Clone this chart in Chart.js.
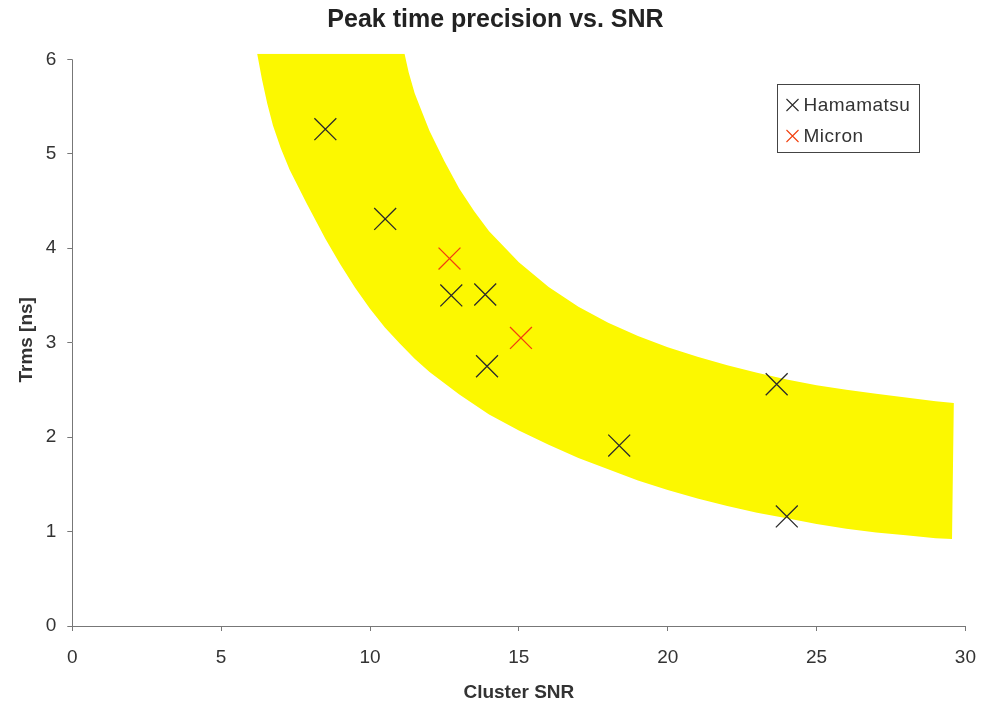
<!DOCTYPE html>
<html><head><meta charset="utf-8">
<script src="https://cdn.jsdelivr.net/npm/chart.js@4/dist/chart.umd.min.js"></script>
<style>html,body{margin:0;padding:0;background:#fff}</style>
</head><body>
<canvas id="c" width="991" height="702"></canvas>
<script>
// ---- data ----
const chartTitle = 'Peak time precision vs. SNR';
const xAxisTitle = 'Cluster SNR';
const yAxisTitle = 'Trms [ns]';
const xTicks = [0, 5, 10, 15, 20, 25, 30];
const yTicks = [0, 1, 2, 3, 4, 5, 6];

const hamamatsuX = [8.50, 10.51, 12.73, 13.87, 13.93, 18.37, 23.66, 24.00];
const hamamatsuY = [5.26, 4.31, 3.50, 3.51, 2.75, 1.91, 2.56, 1.16];
const micronX = [12.67, 15.07];
const micronY = [3.89, 3.05];

// yellow band outline: lower edge (left to right), then upper edge (right to left)
const bandLowerX = [6.21, 6.37, 6.55, 6.74, 7.00, 7.30, 7.86, 8.50, 9.00, 9.50, 10.00, 10.50, 11.00, 11.50, 12.00, 13.00, 14.00, 15.00, 16.00, 17.00, 18.00, 19.00, 20.00, 21.00, 22.00, 23.00, 24.00, 25.00, 26.00, 27.00, 28.00, 29.00, 29.55];
const bandLowerY = [6.06, 5.79, 5.53, 5.30, 5.06, 4.83, 4.48, 4.10, 3.83, 3.58, 3.36, 3.16, 2.99, 2.83, 2.69, 2.45, 2.24, 2.07, 1.92, 1.78, 1.66, 1.54, 1.44, 1.35, 1.27, 1.20, 1.14, 1.08, 1.03, 0.99, 0.96, 0.93, 0.92];
const bandUpperX = [29.61, 29.00, 28.00, 27.00, 26.00, 25.00, 24.00, 23.00, 22.00, 21.00, 20.00, 19.00, 18.00, 17.00, 16.00, 15.00, 14.00, 13.50, 13.00, 12.50, 12.00, 11.75, 11.50, 11.30, 11.16];
const bandUpperY = [2.36, 2.38, 2.42, 2.46, 2.50, 2.55, 2.61, 2.68, 2.76, 2.85, 2.95, 3.07, 3.21, 3.38, 3.59, 3.85, 4.18, 4.39, 4.63, 4.92, 5.24, 5.44, 5.64, 5.86, 6.06];

const pts = (xs, ys) => xs.map((x, i) => ({x, y: ys[i]}));
const bandPoints = pts(bandLowerX, bandLowerY).concat(pts(bandUpperX, bandUpperY));

const FONT = '"Liberation Sans", Arial, sans-serif';
const TEXT = '#333333';
const AXIS = '#777777';

// y axis line drawn only from 0 to 6 (the band pokes slightly above the top)
const yAxisLinePlugin = {
  id: 'yAxisLine',
  afterDatasetsDraw(chart) {
    const y = chart.scales.y, ctx = chart.ctx;
    const x = Math.round(chart.chartArea.left) + 0.5;
    ctx.save();
    ctx.strokeStyle = AXIS;
    ctx.lineWidth = 1;
    ctx.beginPath();
    ctx.moveTo(x, y.getPixelForValue(yTicks[yTicks.length - 1]));
    ctx.lineTo(x, y.getPixelForValue(0));
    ctx.stroke();
    ctx.restore();
  }
};

const legendBoxPlugin = {
  id: 'legendBox',
  afterDraw(chart) {
    const ctx = chart.ctx;
    const ca = chart.chartArea;
    const bx = Math.round(ca.right - 188) + 0.5, by = Math.round(ca.top + 30) + 0.5;
    const bw = 142, bh = 68;
    ctx.save();
    ctx.strokeStyle = '#444';
    ctx.lineWidth = 1;
    ctx.strokeRect(bx, by, bw, bh);
    const entries = chart.data.datasets.filter(d => d.label);
    entries.forEach((d, i) => {
      const cy = by + 20.5 + i * 31;
      const cx = bx + 15;
      ctx.strokeStyle = d.borderColor;
      ctx.lineWidth = 1.1;
      Chart.helpers.drawPoint(ctx, {pointStyle: 'crossRot', radius: 8.5, borderWidth: 1.1}, cx, cy);
      ctx.fillStyle = TEXT;
      ctx.font = '19px ' + FONT;
      ctx.textBaseline = 'middle';
      ctx.textAlign = 'left';
      if ('letterSpacing' in ctx) ctx.letterSpacing = '0.5px';
      ctx.fillText(d.label, cx + 11, cy + 1);
    });
    ctx.restore();
  }
};

new Chart(document.getElementById('c'), {
  type: 'scatter',
  data: {
    datasets: [
      {
        label: 'Hamamatsu',
        data: pts(hamamatsuX, hamamatsuY),
        pointStyle: 'crossRot',
        pointRadius: 15.5,
        pointHoverRadius: 15.5,
        borderColor: '#2a2a2a',
        backgroundColor: '#2a2a2a',
        pointBorderWidth: 1.3
      },
      {
        label: 'Micron',
        data: pts(micronX, micronY),
        pointStyle: 'crossRot',
        pointRadius: 15.5,
        pointHoverRadius: 15.5,
        borderColor: '#f2400e',
        backgroundColor: '#f2400e',
        pointBorderWidth: 1.3
      },
      {
        data: bandPoints,
        showLine: true,
        fill: 'shape',
        backgroundColor: '#fcf800',
        borderColor: '#fcf800',
        borderWidth: 0,
        pointRadius: 0,
        pointHoverRadius: 0,
        tension: 0,
        clip: false
      }
    ]
  },
  options: {
    responsive: false,
    animation: false,
    events: [],
    layout: {padding: {left: 0, right: 0, top: 0, bottom: 0}},
    plugins: {
      legend: {display: false},
      tooltip: {enabled: false},
      title: {
        display: true,
        text: chartTitle,
        color: '#222',
        font: {family: FONT, size: 25, weight: 'bold', lineHeight: 1.2},
        padding: {top: 5, bottom: 18.63}
      }
    },
    scales: {
      x: {
        type: 'linear',
        min: 0, max: 30,
        afterBuildTicks: s => { s.ticks = xTicks.map(v => ({value: v})); },
        afterFit: s => { s.height = 76; },
        grid: {display: true, drawOnChartArea: false, drawTicks: true, tickLength: 5, color: AXIS},
        border: {display: true, color: AXIS, width: 1},
        ticks: {color: TEXT, font: {family: FONT, size: 19}, padding: 15, maxRotation: 0},
        title: {display: true, text: xAxisTitle, color: TEXT, font: {family: FONT, size: 19, weight: 'bold', lineHeight: 1}, padding: {top: 0, bottom: 0}}
      },
      y: {
        type: 'linear',
        min: 0, max: 6.06,
        afterBuildTicks: s => { s.ticks = yTicks.map(v => ({value: v})); },
        afterFit: s => { s.width = 72.3; },
        grid: {display: true, drawOnChartArea: false, drawTicks: true, tickLength: 5, color: AXIS},
        border: {display: false},
        ticks: {color: TEXT, font: {family: FONT, size: 19}, padding: 11},
        title: {display: true, text: yAxisTitle, color: TEXT, font: {family: FONT, size: 19, weight: 'bold', lineHeight: 1.2}, padding: {top: 15, bottom: 0}}
      },
      yRight: {
        type: 'linear',
        position: 'right',
        min: 0, max: 6.06,
        afterFit: s => { s.width = 22.6; },
        grid: {display: false},
        border: {display: false},
        ticks: {display: false},
        title: {display: false}
      }
    }
  },
  plugins: [yAxisLinePlugin, legendBoxPlugin]
});
</script>
</body></html>
